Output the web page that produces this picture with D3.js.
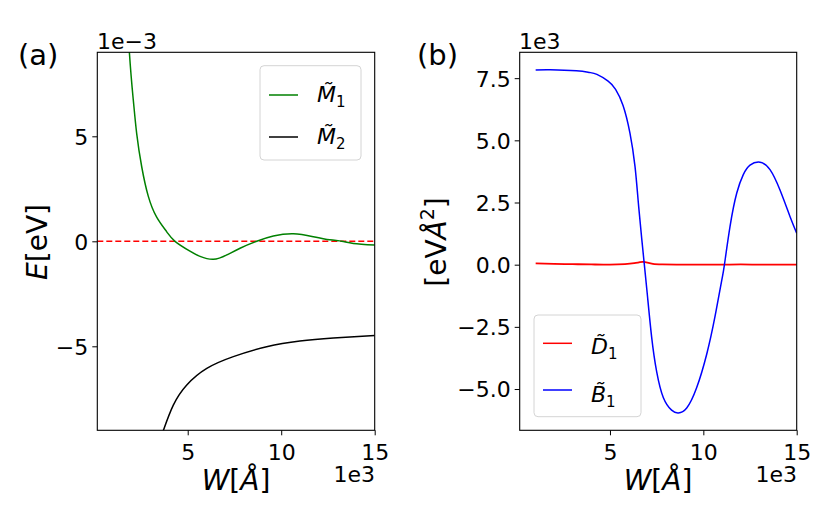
<!DOCTYPE html>
<html>
<head>
<meta charset="utf-8">
<script src="https://cdn.jsdelivr.net/npm/d3@7"></script>
<style>
  html, body { margin: 0; padding: 0; background: #fff; }
  svg { display: block; font-family: "DejaVu Sans", sans-serif; }
</style>
</head>
<body>
<svg id="chart" width="831" height="530"></svg>
<script>
// ---------- data (x in units of 1e3 Å) ----------
const xM1 = [1.5, 1.88, 2.09, 2.27, 2.54, 2.89, 3.34, 3.88, 4.32, 5.12, 5.66, 6.37, 7.09, 7.80, 8.69, 9.58, 10.65, 11.72, 12.6, 13.24, 13.86, 15];
const yM1 = [14.5, 9, 6.73, 5.14, 3.55, 2.15, 1.15, 0.45, 0, -0.47, -0.72, -0.86, -0.65, -0.33, 0, 0.25, 0.36, 0.22, 0.07, 0, -0.1, -0.18];

const xM2 = [3.3, 3.70, 4.23, 4.95, 6.02, 7.44, 9.22, 11.0, 12.79, 15];
const yM2 = [-10.0, -9, -7.8, -6.84, -6.05, -5.49, -5.02, -4.75, -4.61, -4.49];

const xB1 = [1.02, 1.8, 3.2, 3.9, 4.3, 4.9, 5.3, 5.7, 6.07, 6.34, 6.52, 6.70, 6.84, 7.0, 7.23, 7.5, 7.86, 8.3, 8.66, 9.11, 9.64, 10.18, 10.62, 10.98, 11.13, 11.43, 11.79, 12.14, 12.5, 13.04, 13.57, 14.1, 14.64, 15];
const yB1 = [7.83, 7.84, 7.80, 7.73, 7.65, 7.38, 7.05, 6.4, 5.29, 3.95, 2.48, 1.05, 0, -1.2, -2.9, -4.3, -5.35, -5.85, -5.96, -5.76, -4.95, -3.6, -2.1, -0.65, 0, 1.54, 2.88, 3.62, 4.0, 4.12, 3.82, 3.01, 1.94, 1.27];

const xD1 = [1.02, 2, 3, 4, 5, 5.8, 6.3, 6.6, 6.8, 7.0, 7.3, 7.8, 9, 10, 11, 12, 13, 14, 15];
const yD1 = [0.05, 0.03, 0.02, 0.01, 0.0, 0.02, 0.06, 0.1, 0.11, 0.08, 0.03, 0.01, 0.0, 0.0, 0.0, 0.01, 0.0, 0.0, 0.0];

const xTicks = [5, 10, 15];
const yTicksA = [-5, 0, 5];
const yTicksB = [-5, -2.5, 0, 2.5, 5, 7.5];
const xDomain = [0.165, 15];
const yDomainA = [-9, 9];
const yDomainB = [-6.66, 8.54];

const svg = d3.select("#chart");
const plotTop = 52.3, plotBottom = 430.3;

function panel(id, x0, x1, yDomain, yTicks, yFmt) {
  const g = svg.append("g");
  const x = d3.scaleLinear().domain(xDomain).range([x0, x1]);
  const y = d3.scaleLinear().domain(yDomain).range([plotBottom, plotTop]);
  g.append("clipPath").attr("id", id).append("rect")
    .attr("x", x0).attr("y", plotTop).attr("width", x1 - x0).attr("height", plotBottom - plotTop);
  const plot = g.append("g").attr("clip-path", `url(#${id})`);
  const xa = g.append("g").attr("transform", `translate(0,${plotBottom})`)
    .call(d3.axisBottom(x).tickValues(xTicks).tickFormat(d3.format("d")).tickSize(5).tickPadding(4));
  const ya = g.append("g").attr("transform", `translate(${x0},0)`)
    .call(d3.axisLeft(y).tickValues(yTicks).tickFormat(yFmt).tickSize(5).tickPadding(4));
  [xa, ya].forEach(a => {
    a.select(".domain").remove();
    a.selectAll("line").attr("stroke", "#000").attr("stroke-width", 1);
    a.selectAll("text").attr("font-family", "DejaVu Sans").attr("font-size", 22).attr("fill", "#000");
  });
  xa.selectAll("text").attr("dy", "0.95em");
  ya.selectAll("text").attr("dy", "0.36em");
  return { g, plot, x, y, x0, x1 };
}

function drawLine(p, xs, ys, color, w, dash) {
  const pts = xs.map((d, i) => [d, ys[i]]);
  const line = d3.line().x(d => p.x(d[0])).y(d => p.y(d[1])).curve(d3.curveNatural);
  const path = p.plot.append("path").datum(pts).attr("d", line)
    .attr("fill", "none").attr("stroke", color).attr("stroke-width", w)
    .attr("stroke-linejoin", "round");
  if (dash) path.attr("stroke-dasharray", dash);
}

function frame(p) {
  p.g.append("rect").attr("x", p.x0).attr("y", plotTop).attr("width", p.x1 - p.x0).attr("height", plotBottom - plotTop)
    .attr("fill", "none").attr("stroke", "#000").attr("stroke-width", 1.1);
}

function mathLabel(g, x, y, base, sub, anchor) {
  const t = g.append("text").attr("x", x).attr("y", y).attr("font-size", 22).attr("fill", "#000")
    .attr("text-anchor", anchor || "start");
  t.append("tspan").attr("font-style", "italic").text(base + "\u0303");
  t.append("tspan").attr("font-size", 15).attr("dy", 5).text(sub);
  return t;
}

function legend(p, bx, by, bw, bh, items) {
  const lg = p.g.append("g");
  lg.append("rect").attr("x", bx).attr("y", by).attr("width", bw).attr("height", bh)
    .attr("rx", 4).attr("fill", "#fff").attr("fill-opacity", 0.8)
    .attr("stroke", "#d4d4d4").attr("stroke-width", 1);
  items.forEach(it => {
    lg.append("line").attr("x1", bx + 9).attr("x2", bx + 38).attr("y1", it.ly).attr("y2", it.ly)
      .attr("stroke", it.color).attr("stroke-width", 1.5);
    mathLabel(lg, bx + 57, it.ty, it.base, it.sub);
  });
}

// ---------- panel (a) ----------
const A = panel("clipA", 97.3, 374.7, yDomainA, yTicksA, d3.format("d"));
drawLine(A, [xDomain[0], xDomain[1]], [0, 0], "#ff0000", 1.5, "6,3");
drawLine(A, xM1, yM1, "#008000", 1.5);
drawLine(A, xM2, yM2, "#000000", 1.5);
frame(A);
legend(A, 260, 65.7, 101, 94.3, [
  { color: "#008000", base: "M", sub: "1", ly: 95, ty: 101.7 },
  { color: "#000000", base: "M", sub: "2", ly: 137, ty: 144 }
]);

// ---------- panel (b) ----------
const B = panel("clipB", 519.7, 796.7, yDomainB, yTicksB, d3.format(".1f"));
drawLine(B, xD1, yD1, "#ff0000", 1.8);
drawLine(B, xB1, yB1, "#0000ff", 1.5);
frame(B);
legend(B, 534, 315, 107, 101.7, [
  { color: "#ff0000", base: "D", sub: "1", ly: 343.3, ty: 354.3 },
  { color: "#0000ff", base: "B", sub: "1", ly: 390, ty: 401.7 }
]);

// ---------- texts ----------
function txt(x, y, s, size, anchor) {
  return svg.append("text").attr("x", x).attr("y", y).attr("font-size", size)
    .attr("text-anchor", anchor || "start").attr("fill", "#000").text(s);
}
txt(18, 65, "(a)", 29);
txt(417, 65, "(b)", 29);
txt(97, 49, "1e\u22123", 22);
txt(519, 49, "1e3", 22);
txt(375, 482, "1e3", 22, "end");
txt(797, 482, "1e3", 22, "end");

[236, 658].forEach(cx => {
  const t = svg.append("text").attr("x", cx).attr("y", 490).attr("font-size", 28)
    .attr("text-anchor", "middle").attr("fill", "#000");
  t.append("tspan").attr("font-style", "italic").text("W");
  t.append("tspan").text("[");
  t.append("tspan").attr("font-style", "italic").text("Å");
  t.append("tspan").text("]");
});

{
  const t = svg.append("text").attr("transform", "translate(47,242) rotate(-90)")
    .attr("font-size", 28).attr("text-anchor", "middle").attr("fill", "#000");
  t.append("tspan").attr("font-style", "italic").text("E");
  t.append("tspan").text("[eV]");
}
{
  const t = svg.append("text").attr("transform", "translate(446,242) rotate(-90)")
    .attr("font-size", 28).attr("text-anchor", "middle").attr("fill", "#000");
  t.append("tspan").text("[eV");
  t.append("tspan").attr("font-style", "italic").text("Å");
  t.append("tspan").attr("font-size", 19).attr("dy", -12).text("2");
  t.append("tspan").attr("dy", 12).text("]");
}
</script>
</body>
</html>
